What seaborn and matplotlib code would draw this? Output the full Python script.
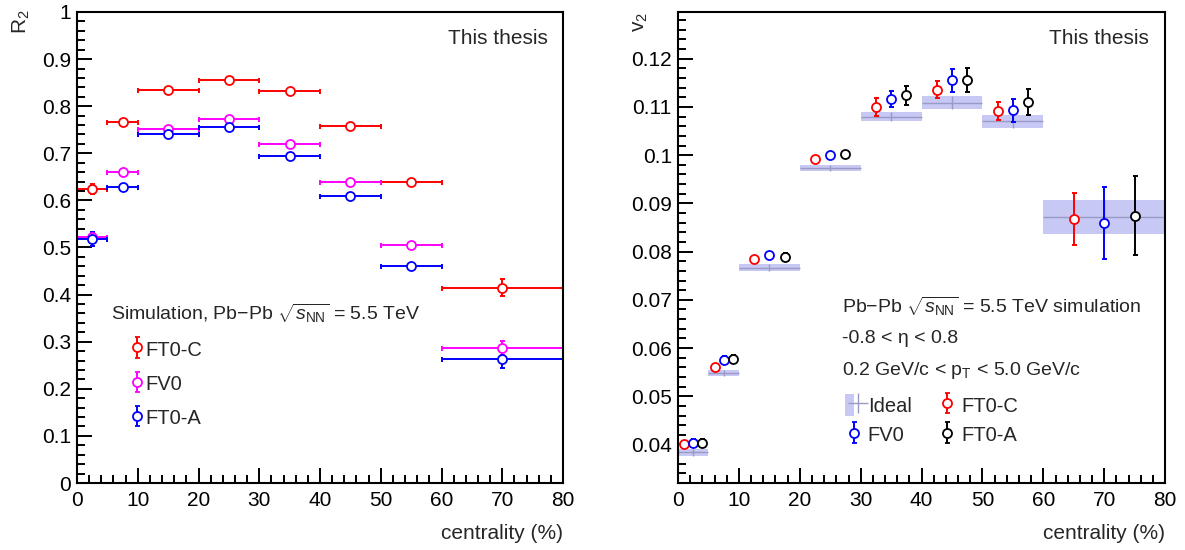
import numpy as np
import pandas as pd
import matplotlib
matplotlib.use("Agg")
import matplotlib.pyplot as plt
import seaborn as sns
from matplotlib.ticker import MultipleLocator, FuncFormatter
from matplotlib.patches import Patch
from matplotlib.legend_handler import HandlerTuple

# ---------------- data ----------------
bin_lo = [0, 5, 10, 20, 30, 40, 50, 60]
bin_hi = [5, 10, 20, 30, 40, 50, 60, 80]

# left panel: resolution R2
r2_ft0c = [0.624, 0.766, 0.834, 0.856, 0.832, 0.759, 0.638, 0.415]
r2_ft0c_err = [0.010, 0.006, 0.004, 0.004, 0.004, 0.006, 0.006, 0.018]
r2_fv0 = [0.522, 0.660, 0.751, 0.772, 0.720, 0.638, 0.505, 0.287]
r2_fv0_err = [0.008, 0.005, 0.004, 0.004, 0.004, 0.005, 0.005, 0.015]
r2_ft0a = [0.518, 0.629, 0.740, 0.756, 0.694, 0.609, 0.461, 0.263]
r2_ft0a_err = [0.014, 0.006, 0.004, 0.004, 0.004, 0.005, 0.005, 0.018]

# right panel: v2
v2_ideal = [0.0384, 0.0548, 0.0767, 0.0973, 0.1080, 0.1109, 0.1070, 0.0872]
v2_ideal_err = [0.0007, 0.0006, 0.0007, 0.0006, 0.0010, 0.0014, 0.0013, 0.0035]
v2_ft0c = [0.0400, 0.0561, 0.0784, 0.0993, 0.1100, 0.1136, 0.1092, 0.0867]
v2_ft0c_err = [0.0005, 0.0005, 0.0006, 0.0003, 0.0018, 0.0017, 0.0018, 0.0054]
v2_fv0 = [0.0404, 0.0576, 0.0792, 0.1000, 0.1117, 0.1155, 0.1093, 0.0859]
v2_fv0_err = [0.0008, 0.0008, 0.0008, 0.0004, 0.0017, 0.0024, 0.0024, 0.0075]
v2_ft0a = [0.0403, 0.0578, 0.0789, 0.1002, 0.1124, 0.1156, 0.1110, 0.0874]
v2_ft0a_err = [0.0008, 0.0008, 0.0008, 0.0005, 0.0019, 0.0025, 0.0027, 0.0082]

labels_r2 = ["FT0-C", "FV0", "FT0-A"]
labels_v2 = ["Ideal", "FV0", "FT0-C", "FT0-A"]

# ---------------- style ----------------
sns.set_theme(style="ticks")
FONT = "Liberation Sans"
plt.rcParams["font.family"] = [FONT, "DejaVu Sans"]
plt.rcParams["mathtext.fontset"] = "custom"
plt.rcParams["mathtext.rm"] = FONT
plt.rcParams["mathtext.it"] = FONT + ":italic"
plt.rcParams["mathtext.bf"] = FONT + ":bold"
FS = 15
FS_LEG = 14.5
FS_TXT = 14

lo = np.array(bin_lo, float)
hi = np.array(bin_hi, float)
cen = 0.5 * (lo + hi)
hw = 0.5 * (hi - lo)

fig = plt.figure(figsize=(11.85, 5.5), dpi=100)
axL = fig.add_axes([0.0650, 0.1218, 0.4101, 0.8564])
axR = fig.add_axes([0.5722, 0.1218, 0.4110, 0.8564])


def style_axis(ax, ymaj, ymin):
    ax.xaxis.set_major_locator(MultipleLocator(10))
    ax.xaxis.set_minor_locator(MultipleLocator(2))
    ax.yaxis.set_major_locator(MultipleLocator(ymaj))
    ax.yaxis.set_minor_locator(MultipleLocator(ymin))
    ax.tick_params(which="both", direction="in", top=False, right=False,
                   width=1.4, color="black", labelsize=FS, labelcolor="black")
    ax.tick_params(which="major", length=11)
    ax.tick_params(which="minor", length=5.5)
    ax.tick_params(axis="x", which="major", pad=6)
    ax.tick_params(axis="y", which="major", pad=4.5)
    fmt = FuncFormatter(lambda v, p: ("%g" % round(v, 6)))
    ax.xaxis.set_major_formatter(fmt)
    ax.yaxis.set_major_formatter(fmt)
    for s in ax.spines.values():
        s.set_linewidth(1.5)
        s.set_color("black")
        s.set_visible(True)
    ax.grid(False)
    ax.set_facecolor("white")


def draw_series(ax, x, y, xerr, yerr, color, lw=1.4, ms=6.5):
    ax.errorbar(x, y, xerr=xerr, yerr=yerr, fmt="none", ecolor=color,
                elinewidth=lw, capsize=1.8, capthick=lw, zorder=2)
    df = pd.DataFrame({"x": x, "y": y})
    sns.scatterplot(data=df, x="x", y="y", ax=ax, marker="o", s=ms ** 2,
                    color=color, zorder=3, legend=False)
    coll = ax.collections[-1]
    coll.set_facecolor("white")
    coll.set_edgecolor(color)
    coll.set_linewidth(1.3)


def proxy(ax, c):
    return ax.errorbar([np.nan], [np.nan], yerr=[1], fmt="o", color=c, mfc="white",
                       mec=c, mew=1.3, ms=6.5, elinewidth=1.4, capsize=1.8, capthick=1.4)


# ---------------- left panel ----------------
colors_L = ["#ff0000", "#ff00ff", "#0000ff"]
for vals, errs, c in zip([r2_ft0c, r2_fv0, r2_ft0a],
                         [r2_ft0c_err, r2_fv0_err, r2_ft0a_err], colors_L):
    draw_series(axL, cen, vals, hw, errs, c)

axL.set_xlim(0, 80)
axL.set_ylim(0, 1)
style_axis(axL, 0.1, 0.02)
axL.set_xlabel("centrality (%)", fontsize=FS, loc="right")
axL.xaxis.set_label_coords(1.0, -0.086)
axL.set_ylabel("R$_2$", fontsize=FS, loc="top")
axL.yaxis.set_label_coords(-0.092, 1.005)
axL.text(0.968, 0.943, "This thesis", transform=axL.transAxes,
         ha="right", va="center", fontsize=FS)
axL.text(0.070, 0.361, r"Simulation, Pb$-$Pb $\sqrt{s_{\mathrm{NN}}}$ = 5.5 TeV",
         transform=axL.transAxes, ha="left", va="center", fontsize=FS_TXT)

hL = [proxy(axL, c) for c in colors_L]
axL.legend(hL, labels_r2, loc="upper left", bbox_to_anchor=(0.109, 0.305),
           frameon=False, fontsize=FS_LEG, handlelength=0.7, handleheight=1.05,
           handletextpad=0.05, labelspacing=0.7, borderaxespad=0, borderpad=0)

# ---------------- right panel ----------------
box_color = "#c8c8f4"
ideal_line = "#9a9ac6"
ideal_v = np.array(v2_ideal)
ideal_e = np.array(v2_ideal_err)
axR.bar(lo, 2 * ideal_e, bottom=ideal_v - ideal_e, width=hi - lo, align="edge",
        color=box_color, edgecolor="none", zorder=1)
axR.errorbar(cen, ideal_v, xerr=hw, yerr=ideal_e, fmt="none",
             ecolor=ideal_line, elinewidth=1.0, capsize=0, zorder=1.5)

colors_R = ["#ff0000", "#0000ff", "#000000"]
off = np.maximum(0.25 * (hi - lo), 1.5)
for k, (vals, errs, c) in enumerate(zip([v2_ft0c, v2_fv0, v2_ft0a],
                                        [v2_ft0c_err, v2_fv0_err, v2_ft0a_err], colors_R)):
    x = cen + (k - 1) * off
    draw_series(axR, x, vals, None, errs, c)

axR.set_xlim(0, 80)
axR.set_ylim(0.032, 0.1297)
style_axis(axR, 0.01, 0.002)
axR.set_xlabel("centrality (%)", fontsize=FS, loc="right")
axR.xaxis.set_label_coords(1.0, -0.086)
axR.set_ylabel("v$_2$", fontsize=FS, loc="top")
axR.yaxis.set_label_coords(-0.058, 1.0)
axR.text(0.967, 0.943, "This thesis", transform=axR.transAxes,
         ha="right", va="center", fontsize=FS)
axR.text(0.336, 0.374, r"Pb$-$Pb $\sqrt{s_{\mathrm{NN}}}$ = 5.5 TeV simulation",
         transform=axR.transAxes, ha="left", va="center", fontsize=FS_TXT)
axR.text(0.336, 0.307, "-0.8 < \u03b7 < 0.8",
         transform=axR.transAxes, ha="left", va="center", fontsize=FS_TXT)
axR.text(0.336, 0.239, r"0.2 GeV/c < p$_{\mathrm{T}}$ < 5.0 GeV/c",
         transform=axR.transAxes, ha="left", va="center", fontsize=FS_TXT)

h_ideal_box = Patch(facecolor=box_color, edgecolor="none")
h_ideal_bar = axR.errorbar([np.nan], [np.nan], xerr=[1], yerr=[1], fmt="none",
                           ecolor=ideal_line, elinewidth=1.0)
hR = {lab: proxy(axR, c) for c, lab in zip(colors_R, ["FT0-C", "FV0", "FT0-A"])}
handles = [(h_ideal_box, h_ideal_bar), hR["FV0"], hR["FT0-C"], hR["FT0-A"]]
axR.legend(handles, labels_v2, loc="upper left", bbox_to_anchor=(0.343, 0.188),
           ncol=2, frameon=False, fontsize=FS_LEG, handlelength=0.87, handleheight=1.3,
           handletextpad=0.25, columnspacing=1.35, labelspacing=0.36,
           borderaxespad=0, borderpad=0,
           handler_map={tuple: HandlerTuple(ndivide=None)})

fig.savefig("out.png", dpi=100)
